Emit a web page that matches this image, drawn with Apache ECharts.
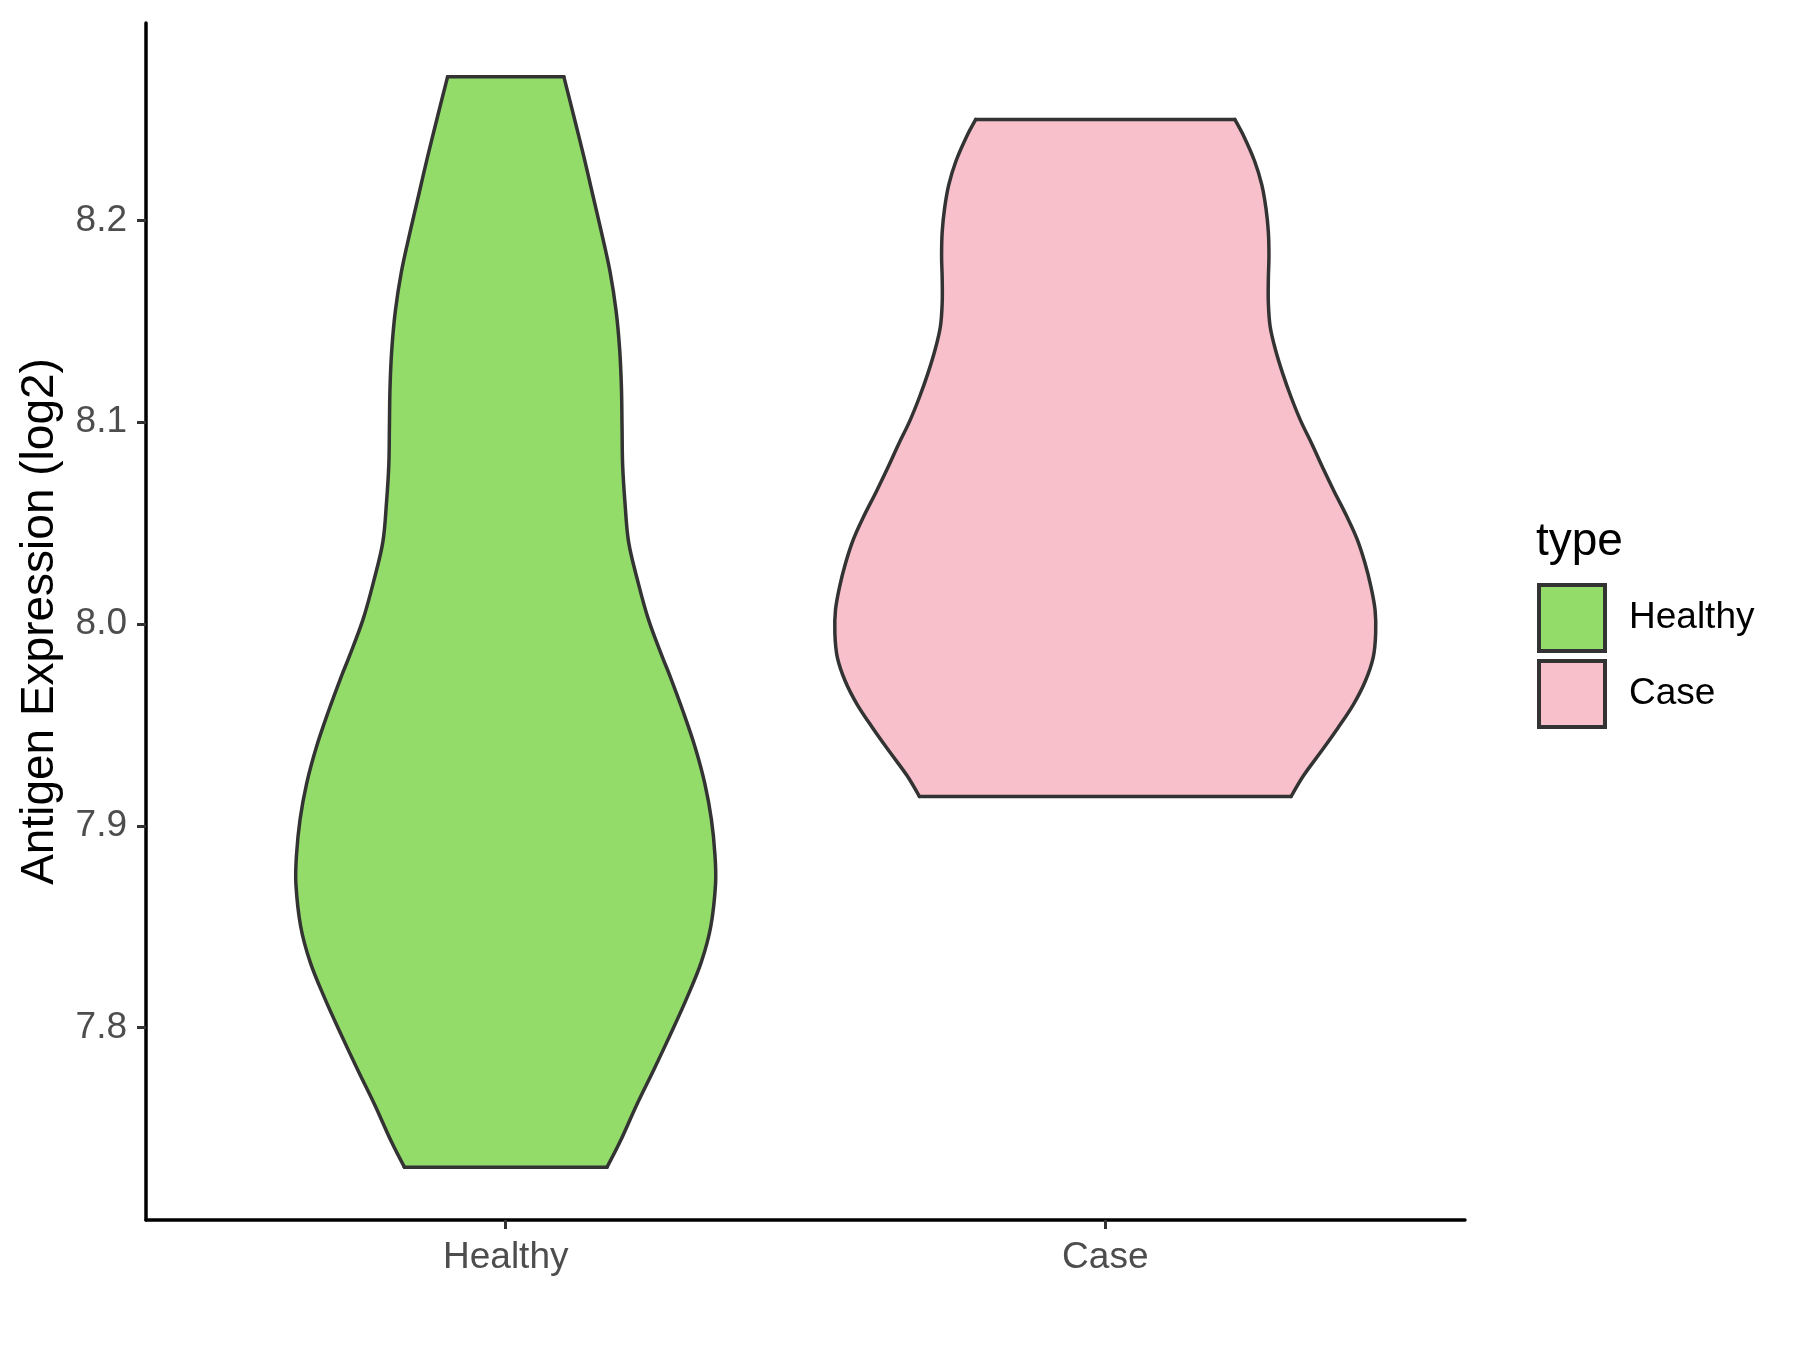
<!DOCTYPE html>
<html>
<head>
<meta charset="utf-8">
<script src="https://cdn.jsdelivr.net/npm/echarts@6/dist/echarts.min.js"></script>
<style>
html,body{margin:0;padding:0;background:#fff;}
#chart{width:1800px;height:1350px;}
</style>
</head>
<body>
<div id="chart"></div>
<script>
// ---- data ----
const categories = ['Healthy', 'Case'];
const groupColors = ['#93DC6A', '#F7C0CB'];
const yTicks = [7.8, 7.9, 8.0, 8.1, 8.2];

// violin outline: expression values and half-widths (in category units)
const healthyY = [8.2712, 8.2512, 8.2320, 8.2129, 8.1937, 8.1746, 8.1554, 8.1363, 8.1172, 8.0980,
  8.0789, 8.0597, 8.0406, 8.0215, 8.0023, 7.9831, 7.9742, 7.9565, 7.9388, 7.9210,
  7.9032, 7.8855, 7.8713, 7.8501, 7.8323, 7.8146, 7.7968, 7.7791, 7.7614, 7.7436, 7.7308];
const healthyHalfWidth = [0.097, 0.114, 0.130, 0.145, 0.160, 0.174, 0.184, 0.190, 0.193, 0.194,
  0.195, 0.199, 0.205, 0.220, 0.238, 0.262, 0.274, 0.296, 0.316, 0.332,
  0.343, 0.349, 0.350, 0.342, 0.326, 0.302, 0.275, 0.247, 0.218, 0.191, 0.169];

const caseY = [8.2501, 8.2412, 8.2295, 8.2178, 8.2061, 8.1944, 8.1827, 8.1710, 8.1592, 8.1475,
  8.1358, 8.1241, 8.1124, 8.1007, 8.0890, 8.0773, 8.0656, 8.0539, 8.0421, 8.0304,
  8.0187, 8.0070, 7.9953, 7.9836, 7.9719, 7.9602, 7.9485, 7.9368, 7.9250, 7.9145];
const caseHalfWidth = [0.216, 0.232, 0.249, 0.261, 0.268, 0.272, 0.273, 0.272, 0.272, 0.275,
  0.284, 0.296, 0.310, 0.326, 0.345, 0.363, 0.382, 0.402, 0.420, 0.433,
  0.443, 0.450, 0.451, 0.447, 0.434, 0.414, 0.388, 0.360, 0.331, 0.310];

const FONT = '"Liberation Sans", Arial, sans-serif';
const OUTLINE = '#333333';

function violinSeries(name, idx, ys, hw, color) {
  const center = idx + 1;
  return {
    name: name,
    type: 'custom',
    coordinateSystem: 'cartesian2d',
    itemStyle: { color: color, borderColor: OUTLINE },
    data: [[center, ys[0]]],
    renderItem: function (params, api) {
      const left = [], right = [];
      for (let i = 0; i < ys.length; i++) {
        left.push(api.coord([center - hw[i], ys[i]]));
        right.push(api.coord([center + hw[i], ys[i]]));
      }
      const poly = left.concat(right.slice().reverse());
      const n = ys.length - 1;
      const lineStyle = { stroke: OUTLINE, lineWidth: 3.5, fill: null, lineJoin: 'round', lineCap: 'round' };
      return {
        type: 'group',
        children: [
          { type: 'polygon', shape: { points: poly }, style: { fill: color, stroke: null } },
          { type: 'polyline', shape: { points: left, smooth: 0.35 }, style: lineStyle },
          { type: 'polyline', shape: { points: right, smooth: 0.35 }, style: lineStyle },
          { type: 'line', shape: { x1: left[0][0], y1: left[0][1], x2: right[0][0], y2: right[0][1] }, style: lineStyle },
          { type: 'line', shape: { x1: left[n][0], y1: left[n][1], x2: right[n][0], y2: right[n][1] }, style: lineStyle }
        ]
      };
    },
    silent: true,
    z: 2
  };
}

const chart = echarts.init(document.getElementById('chart'), null, { renderer: 'canvas' });
chart.setOption({
  animation: false,
  backgroundColor: '#ffffff',
  grid: { left: 146, right: 335, top: 23, bottom: 130, containLabel: false },
  title: {
    text: 'type', left: 1536, top: 519, padding: 0,
    textStyle: { fontFamily: FONT, fontSize: 46, fontWeight: 'normal', color: '#000000' }
  },
  legend: {
    data: categories,
    orient: 'vertical',
    left: 1537, top: 583,
    itemWidth: 66, itemHeight: 66, itemGap: 6,
    icon: 'rect',
    padding: 0,
    selectedMode: false,
    itemStyle: { borderColor: OUTLINE, borderWidth: 4 },
    textStyle: { fontFamily: FONT, fontSize: 37, color: '#000000', padding: [0, 0, 0, 19] }
  },
  xAxis: {
    type: 'value',
    min: 0.4, max: 2.6,
    splitLine: { show: false },
    axisLine: { onZero: false, lineStyle: { color: '#000000', width: 3.5 } },
    axisTick: { customValues: [1, 2], length: 9, lineStyle: { color: OUTLINE, width: 3 } },
    axisLabel: {
      customValues: [1, 2],
      margin: 19,
      fontFamily: FONT, fontSize: 37, color: '#4D4D4D',
      formatter: function (v) { return categories[Math.round(v) - 1] || ''; }
    }
  },
  yAxis: {
    type: 'value',
    min: 7.7046, max: 8.2979,
    splitLine: { show: false },
    name: 'Antigen Expression (log2)',
    nameLocation: 'middle',
    nameRotate: 90,
    nameGap: 83,
    nameTextStyle: { fontFamily: FONT, fontSize: 46, color: '#000000' },
    axisLine: { onZero: false, lineStyle: { color: '#000000', width: 3.5 } },
    axisTick: { customValues: yTicks, length: 9, lineStyle: { color: OUTLINE, width: 3 } },
    axisLabel: {
      customValues: yTicks,
      margin: 19,
      fontFamily: FONT, fontSize: 37, color: '#4D4D4D',
      formatter: function (v) { return Number(v).toFixed(1); }
    }
  },
  series: [
    violinSeries('Healthy', 0, healthyY, healthyHalfWidth, groupColors[0]),
    violinSeries('Case', 1, caseY, caseHalfWidth, groupColors[1])
  ]
});
</script>
</body>
</html>
